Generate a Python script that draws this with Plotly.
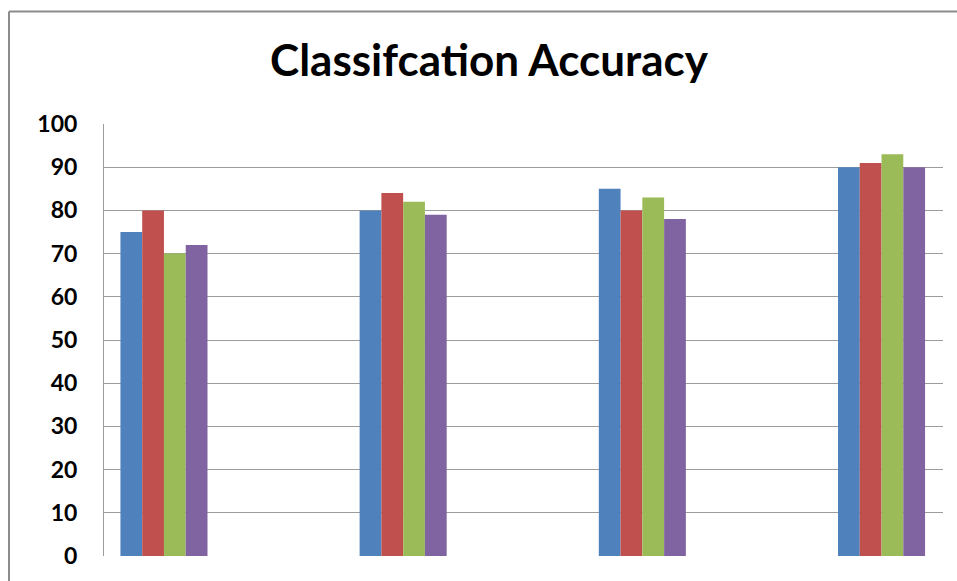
import plotly.graph_objects as go

categories = ["Group 1", "Group 2", "Group 3", "Group 4"]
series_names = ["Series 1", "Series 2", "Series 3", "Series 4"]
series_values = [
    [75, 80, 85, 90],
    [80, 84, 80, 91],
    [70, 82, 83, 93],
    [72, 79, 78, 90],
]
colors = ["#4F81BD", "#C0504D", "#9BBB59", "#8064A2"]
y_ticks = list(range(0, 101, 10))

W, H = 957, 581
L, T, PW, PH = 104, 124, 839, 434

fig = go.Figure()
for name, vals, col in zip(series_names, series_values, colors):
    fig.add_trace(go.Bar(x=categories, y=vals, name=name,
                         marker=dict(color=col, line=dict(width=0))))

fig.update_layout(
    width=W, height=H,
    margin=dict(l=L, r=W - L - PW, t=T, b=H - T - PH),
    paper_bgcolor="white", plot_bgcolor="white",
    barmode="group", bargap=0.636, bargroupgap=0,
    showlegend=False,
    title=dict(text="<b>Classifcation Accuracy</b>", x=489 / W, xanchor="center",
               y=1 - 61 / H, yanchor="middle",
               font=dict(family="Lato", size=44, color="black")),
    font=dict(family="Lato", color="black"),
)
fig.update_xaxes(range=[-0.2507, 3.257], showticklabels=False, showgrid=False,
                 showline=False, zeroline=False, fixedrange=True)
fig.update_yaxes(range=[0, 100], tickvals=y_ticks,
                 ticktext=[f"<b>{v}</b>" for v in y_ticks],
                 tickfont=dict(family="Lato", size=23, color="black"),
                 showgrid=True, gridcolor="#9C9C9C", gridwidth=1,
                 showline=True, linecolor="#9C9C9C", linewidth=1,
                 zeroline=False, ticks="", ticklabelstandoff=21)

# outer chart border (left and top sides visible)
bx = (9 - L) / PW
by = (T + PH - 11) / PH
fig.add_shape(type="line", xref="paper", yref="paper",
              x0=bx, x1=1.1, y0=by, y1=by,
              line=dict(color="#8C8C8C", width=2))
fig.add_shape(type="line", xref="paper", yref="paper",
              x0=bx, x1=bx, y0=by, y1=-0.2,
              line=dict(color="#8C8C8C", width=2))

fig.write_html("out.html", config={"displayModeBar": False},
               post_script="document.body.style.margin='0';document.body.style.overflow='hidden';")
